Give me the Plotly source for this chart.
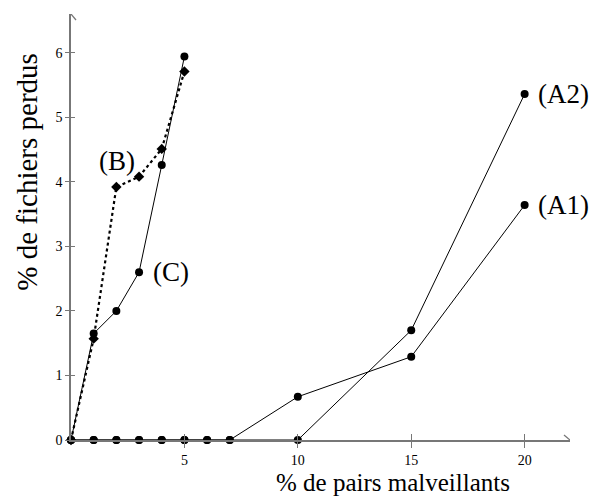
import plotly.graph_objects as go

# Data
x_A = [0, 1, 2, 3, 4, 5, 6, 7, 10, 15, 20]
y_A1 = [0, 0, 0, 0, 0, 0, 0, 0, 0.67, 1.29, 3.64]
x_A2 = [0, 1, 2, 3, 4, 5, 6, 7, 10, 15, 20]
y_A2 = [0, 0, 0, 0, 0, 0, 0, 0, 0, 1.70, 5.36]
x_BC = [0, 1, 2, 3, 4, 5]
y_B = [0, 1.57, 3.92, 4.08, 4.51, 5.71]
y_C = [0, 1.65, 2.0, 2.6, 4.26, 5.94]

x_ticks = [5, 10, 15, 20]
y_ticks = [0, 1, 2, 3, 4, 5, 6]

FONT = "Liberation Serif"
AXC = "#777777"

fig = go.Figure()
fig.add_trace(go.Scatter(x=x_A, y=y_A1, mode="lines+markers",
                         line=dict(color="black", width=1),
                         marker=dict(symbol="circle", size=8, color="black"),
                         cliponaxis=False, name="A1"))
fig.add_trace(go.Scatter(x=x_A2, y=y_A2, mode="lines+markers",
                         line=dict(color="black", width=1),
                         marker=dict(symbol="circle", size=8, color="black"),
                         cliponaxis=False, name="A2"))
fig.add_trace(go.Scatter(x=x_BC, y=y_B, mode="lines+markers",
                         line=dict(color="black", width=2.2, dash="dot"),
                         marker=dict(symbol="diamond", size=8, color="black"),
                         cliponaxis=False, name="B"))
fig.add_trace(go.Scatter(x=x_BC, y=y_C, mode="lines+markers",
                         line=dict(color="black", width=1),
                         marker=dict(symbol="circle", size=8, color="black"),
                         cliponaxis=False, name="C"))

lab = dict(family=FONT, size=27, color="black")
annotations = [
    dict(x=20, y=y_A2[-1], text="(A2)", showarrow=False, xanchor="left", xshift=11, font=lab),
    dict(x=20, y=y_A1[-1], text="(A1)", showarrow=False, xanchor="left", xshift=11, font=lab),
    dict(x=2.03, y=4.33, text="(B)", showarrow=False, xanchor="center", font=lab),
    dict(x=3, y=2.6, text="(C)", showarrow=False, xanchor="left", xshift=12, font=lab),
    dict(x=0.645, y=-0.10, xref="paper", yref="paper", text="% de pairs malveillants",
         showarrow=False, xanchor="center", yanchor="middle", font=dict(family=FONT, size=25, color="black")),
    dict(x=-0.088, y=0.63, xref="paper", yref="paper", text="% de fichiers perdus",
         showarrow=False, xanchor="center", yanchor="middle", textangle=-90,
         font=dict(family=FONT, size=29, color="black")),
]

shapes = [
    # x-axis arrow head
    dict(type="line", xref="x", yref="y", xsizemode="pixel", ysizemode="pixel",
         xanchor=22, yanchor=0, x0=-6, x1=0, y0=5, y1=0, line=dict(color=AXC, width=1.3)),
    dict(type="line", xref="x", yref="y", xsizemode="pixel", ysizemode="pixel",
         xanchor=22, yanchor=0, x0=-6, x1=0, y0=-5, y1=0, line=dict(color=AXC, width=1.3)),
    # y-axis arrow head
    dict(type="line", xref="x", yref="y", xsizemode="pixel", ysizemode="pixel",
         xanchor=0, yanchor=6.6, x0=-5, x1=0, y0=-6, y1=0, line=dict(color=AXC, width=1.3)),
    dict(type="line", xref="x", yref="y", xsizemode="pixel", ysizemode="pixel",
         xanchor=0, yanchor=6.6, x0=5, x1=0, y0=-6, y1=0, line=dict(color=AXC, width=1.3)),
]

fig.update_layout(
    width=593, height=501,
    margin=dict(l=71, r=23, t=14, b=61),
    paper_bgcolor="white", plot_bgcolor="white",
    showlegend=False,
    annotations=annotations,
    shapes=shapes,
    xaxis=dict(range=[0, 22], tickvals=x_ticks, ticktext=[str(v) for v in x_ticks],
               showgrid=False, zeroline=False, showline=True, linecolor=AXC, linewidth=1.5,
               ticks="outside", ticklen=6, tickcolor=AXC, tickwidth=1,
               minor=dict(tickvals=x_ticks, ticks="inside", ticklen=6, tickcolor=AXC, tickwidth=1),
               tickfont=dict(family=FONT, size=14, color="black")),
    yaxis=dict(range=[0, 6.6], tickvals=y_ticks, ticktext=[str(v) for v in y_ticks],
               showgrid=False, zeroline=False, showline=True, linecolor=AXC, linewidth=1.5,
               ticks="outside", ticklen=4, tickcolor=AXC, tickwidth=1,
               minor=dict(tickvals=y_ticks, ticks="inside", ticklen=4, tickcolor=AXC, tickwidth=1),
               tickfont=dict(family=FONT, size=14, color="black")),
)

fig.write_html("out.html", config={"displayModeBar": False},
               post_script="document.body.style.margin='0px';document.body.style.overflow='hidden';")
